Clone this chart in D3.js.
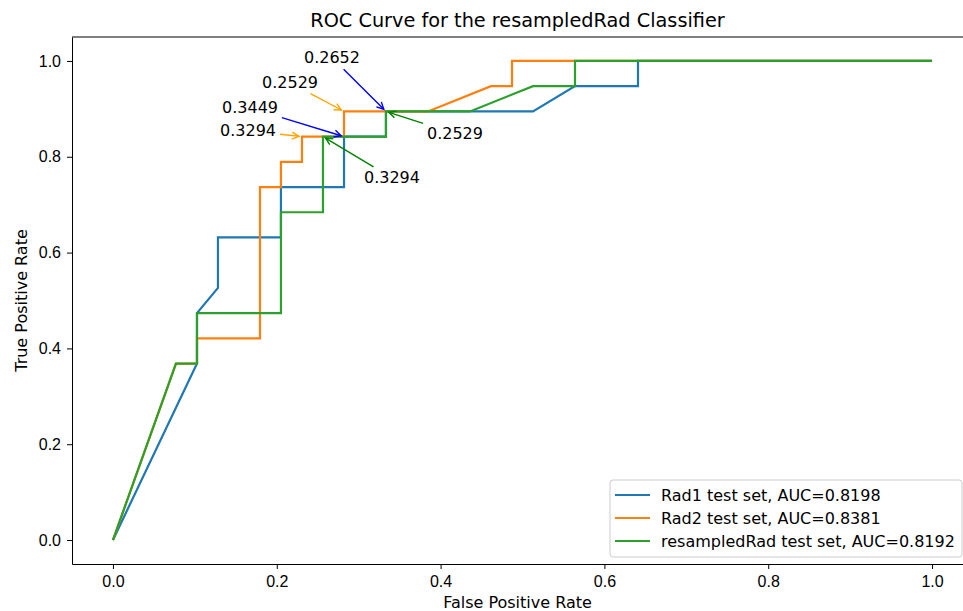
<!DOCTYPE html>
<html>
<head>
<meta charset="utf-8">
<script src="https://cdn.jsdelivr.net/npm/d3@7"></script>
<style>
  body { margin: 0; background: #fff; }
  svg { font-family: "DejaVu Sans", sans-serif; }
  .tick text { font-size: 16px; fill: #000; }
  .tick line { stroke: #000; }
  .domain { stroke: #000; }
</style>
</head>
<body>
<div id="chart"></div>
<script>
// ROC points
const rad1Fpr = [0, 0.1026, 0.1026, 0.1282, 0.1282, 0.2051, 0.2051, 0.2821, 0.2821, 0.3333, 0.3333, 0.5128, 0.5641, 0.6410, 0.6410, 1.0];
const rad1Tpr = [0, 0.3684, 0.4737, 0.5263, 0.6316, 0.6316, 0.7368, 0.7368, 0.8421, 0.8421, 0.8947, 0.8947, 0.9474, 0.9474, 1.0, 1.0];

const rad2Fpr = [0, 0.0769, 0.1026, 0.1026, 0.1795, 0.1795, 0.2051, 0.2051, 0.2308, 0.2308, 0.2821, 0.2821, 0.3846, 0.4615, 0.4872, 0.4872, 1.0];
const rad2Tpr = [0, 0.3684, 0.3684, 0.4211, 0.4211, 0.7368, 0.7368, 0.7895, 0.7895, 0.8421, 0.8421, 0.8947, 0.8947, 0.9474, 0.9474, 1.0, 1.0];

const resFpr = [0, 0.0769, 0.1026, 0.1026, 0.2051, 0.2051, 0.2564, 0.2564, 0.3333, 0.3333, 0.4359, 0.5128, 0.5641, 0.5641, 1.0];
const resTpr = [0, 0.3684, 0.3684, 0.4737, 0.4737, 0.6842, 0.6842, 0.8421, 0.8421, 0.8947, 0.8947, 0.9474, 0.9474, 1.0, 1.0];

const seriesNames = ["Rad1 test set, AUC=0.8198", "Rad2 test set, AUC=0.8381", "resampledRad test set, AUC=0.8192"];

// threshold annotations: series index, point, label
const annSeries = [0, 1, 0, 1, 2, 2];
const annFpr = [0.3333, 0.2821, 0.2821, 0.2308, 0.3333, 0.2564];
const annTpr = [0.8947, 0.8947, 0.8421, 0.8421, 0.8947, 0.8421];
const annLabel = ["0.2652", "0.2529", "0.3449", "0.3294", "0.2529", "0.3294"];

const xTicks = [0, 0.2, 0.4, 0.6, 0.8, 1.0];
const yTicks = [0, 0.2, 0.4, 0.6, 0.8, 1.0];

const lineColors = ["#1f77b4", "#ff7f0e", "#2ca02c"];
const arrowColors = ["blue", "orange", "green"];
// text offset from the annotated point, in px
const annOffset = [[-54, -54], [-54, -29], [-94, -29], [-54, -6], [69, 22], [69, 41]];

const W = 963, H = 611;
const margin = {top: 37, right: -10, bottom: 47, left: 72};
let width = W - margin.left - margin.right,
    height = H - margin.top - margin.bottom;

let svg = d3.select("#chart")
    .append("svg")
    .attr("width", W)
    .attr("height", H)
    .append("g")
    .attr("transform", "translate(" + margin.left + "," + margin.top + ")");

let x = d3.scaleLinear().domain([-0.05, 1.05]).range([0, width]);
let y = d3.scaleLinear().domain([-0.05, 1.05]).range([height, 0]);

const fmt = d3.format(".1f");

svg.append("g")
    .attr("transform", "translate(0," + height + ")")
    .call(d3.axisBottom(x).tickValues(xTicks).tickFormat(fmt)
        .tickSizeInner(5).tickSizeOuter(0).tickPadding(7));

svg.append("g")
    .call(d3.axisLeft(y).tickValues(yTicks).tickFormat(fmt)
        .tickSizeInner(5).tickSizeOuter(0).tickPadding(6));

svg.append("line").attr("x1", 0).attr("x2", width).attr("y1", 0).attr("y2", 0).attr("stroke", "#000");
svg.append("line").attr("x1", width).attr("x2", width).attr("y1", 0).attr("y2", height).attr("stroke", "#000");

const series = [
    d3.zip(rad1Fpr, rad1Tpr),
    d3.zip(rad2Fpr, rad2Tpr),
    d3.zip(resFpr, resTpr)
];

let line = d3.line()
    .x(function (d) { return x(d[0]); })
    .y(function (d) { return y(d[1]); });

series.forEach(function (s, i) {
    svg.append("path")
        .datum(s)
        .attr("fill", "none")
        .attr("stroke", lineColors[i])
        .attr("stroke-width", 2.2)
        .attr("stroke-linejoin", "miter")
        .attr("d", line);
});

// annotations with "->" arrows
annLabel.forEach(function (lab, i) {
    const px = x(annFpr[i]), py = y(annTpr[i]);
    const cx = px + annOffset[i][0], cy = py + annOffset[i][1];
    const t = svg.append("text")
        .attr("x", cx)
        .attr("y", cy + 5.8)
        .attr("text-anchor", "middle")
        .attr("font-size", 16)
        .text(lab);
    const bb = t.node().getBBox();
    const hw = bb.width / 2 + 1, hh = bb.height / 2;
    const bcx = bb.x + bb.width / 2, bcy = bb.y + bb.height / 2;
    let dx = px - bcx, dy = py - bcy;
    const len = Math.hypot(dx, dy);
    const ux = dx / len, uy = dy / len;
    let k = Math.min(Math.abs(dx) > 0 ? hw / Math.abs(dx) : Infinity, Math.abs(dy) > 0 ? hh / Math.abs(dy) : Infinity);
    const sx = bcx + dx * k + ux * 3, sy = bcy + dy * k + uy * 3;
    const ex = px - ux * 3, ey = py - uy * 3;
    const col = arrowColors[annSeries[i]];
    svg.append("line")
        .attr("x1", sx).attr("y1", sy).attr("x2", ex).attr("y2", ey)
        .attr("stroke", col).attr("stroke-width", 1.4);
    const hl = 7, hwid = 3.5;
    const pxn = -uy, pyn = ux;
    svg.append("path")
        .attr("d", "M" + (ex - ux * hl + pxn * hwid) + "," + (ey - uy * hl + pyn * hwid) +
            "L" + ex + "," + ey +
            "L" + (ex - ux * hl - pxn * hwid) + "," + (ey - uy * hl - pyn * hwid))
        .attr("fill", "none")
        .attr("stroke", col).attr("stroke-width", 1.4);
});

// title & axis labels
svg.append("text")
    .attr("x", width / 2 - 5)
    .attr("y", -10.5)
    .attr("text-anchor", "middle")
    .attr("font-size", 19.3)
    .text("ROC Curve for the resampledRad Classifier");

svg.append("text")
    .attr("x", width / 2 - 5)
    .attr("y", height + 43.5)
    .attr("text-anchor", "middle")
    .attr("font-size", 16)
    .text("False Positive Rate");

svg.append("text")
    .attr("transform", "translate(" + (26.5 - margin.left) + "," + (height / 2) + ") rotate(-90)")
    .attr("text-anchor", "middle")
    .attr("font-size", 16)
    .text("True Positive Rate");

// legend
const lg = svg.append("g").attr("transform", "translate(" + (610 - margin.left) + "," + (480 - margin.top) + ")");
lg.append("rect")
    .attr("width", 352).attr("height", 77)
    .attr("rx", 3)
    .attr("fill", "#fff").attr("fill-opacity", 0.8)
    .attr("stroke", "#ccc");
seriesNames.forEach(function (n, i) {
    const ry = 15 + i * 23;
    lg.append("line")
        .attr("x1", 5).attr("x2", 40).attr("y1", ry).attr("y2", ry)
        .attr("stroke", lineColors[i]).attr("stroke-width", 2.2);
    lg.append("text")
        .attr("x", 51).attr("y", ry + 5.8)
        .attr("font-size", 16)
        .text(n);
});
</script>
</body>
</html>
